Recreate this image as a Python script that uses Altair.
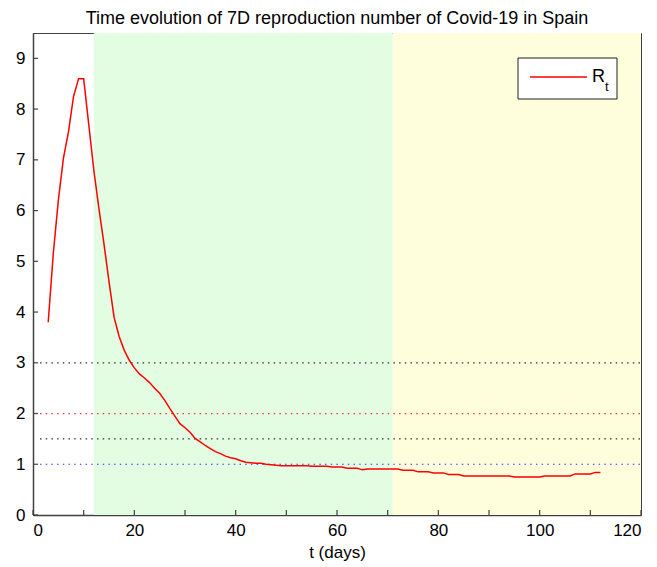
import altair as alt
import pandas as pd

# ---- data ----
days = list(range(3, 113))
rt = [3.8, 5.15, 6.2, 7.03, 7.55, 8.25, 8.6, 8.6,
      7.7, 6.8, 6.05, 5.35, 4.6, 3.9, 3.52, 3.25, 3.05, 2.9,
      2.78, 2.70, 2.61, 2.50, 2.40, 2.26, 2.10, 1.95, 1.80, 1.72,
      1.63, 1.51, 1.44, 1.37, 1.31, 1.25, 1.21, 1.16, 1.13, 1.11,
      1.07, 1.04, 1.03, 1.02, 1.02, 1.00, 0.99, 0.98, 0.97, 0.97,
      0.97, 0.97, 0.97, 0.97, 0.96, 0.96, 0.96, 0.96, 0.945, 0.945,
      0.945, 0.92, 0.92, 0.92, 0.89, 0.905, 0.905, 0.905, 0.905, 0.905,
      0.905, 0.905, 0.88, 0.88, 0.88, 0.85, 0.85, 0.85, 0.83, 0.83,
      0.83, 0.80, 0.80, 0.80, 0.77, 0.77, 0.77, 0.77, 0.77, 0.77,
      0.77, 0.77, 0.77, 0.77, 0.75, 0.75, 0.75, 0.75, 0.75, 0.75,
      0.77, 0.77, 0.77, 0.77, 0.77, 0.77, 0.81, 0.81, 0.81, 0.81,
      0.84, 0.84]

region_start = [12, 71]
region_end = [71, 120]
region_color = ["#e2fde2", "#fffedc"]

ref_levels = [3, 2, 1.5, 1]
ref_colors = ["#333333", "#ff3333", "#333333", "#3333ff"]

x_ticks = list(range(0, 121, 10))
x_labels = list(range(0, 121, 20))
y_ticks = list(range(0, 10))

title_text = "Time evolution of 7D reproduction number of Covid-19 in Spain"
x_title = "t (days)"
legend_main = "R"
legend_sub = "t"

FONT = "Liberation Sans, Arial, Helvetica, sans-serif"
W, H = 608, 482
FRAME = "#404040"

df = pd.DataFrame({"t": days, "R": rt})
reg = pd.DataFrame({"a": region_start, "b": region_end, "c": region_color})
refs = pd.DataFrame({"y": ref_levels, "c": ref_colors})

xs = alt.Scale(domain=[0, 120], nice=False, zero=False)
ys = alt.Scale(domain=[0, 9.5], nice=False, zero=False)

bg = alt.Chart(reg).mark_rect().encode(
    x=alt.X("a:Q", scale=xs, axis=alt.Axis(values=x_labels, title=x_title, tickSize=0,
                                            labelPadding=7, titlePadding=6, domainColor=FRAME,
                                            domainWidth=1.5, grid=False)),
    x2="b:Q",
    y=alt.value(0), y2=alt.value(H),
    color=alt.Color("c:N", scale=None),
)

ref_lines = alt.Chart(refs).mark_rule(strokeDash=[1.5, 4.2], strokeWidth=1.2).encode(
    y=alt.Y("y:Q", scale=ys),
    x=alt.value(7), x2=alt.value(W),
    color=alt.Color("c:N", scale=None),
)

line = alt.Chart(df).mark_line(color="#ff0000", strokeWidth=1.5).encode(
    x=alt.X("t:Q", scale=xs),
    y=alt.Y("R:Q", scale=ys, axis=alt.Axis(values=y_ticks, title=None, tickSize=0,
                                          labelPadding=8, domainColor=FRAME,
                                          domainWidth=1.5, grid=False)),
)

xt = alt.Chart(pd.DataFrame({"v": x_ticks})).mark_rule(color=FRAME, strokeWidth=1.2).encode(
    x=alt.X("v:Q", scale=xs), y=alt.value(H), y2=alt.value(H - 5))
yt = alt.Chart(pd.DataFrame({"v": y_ticks})).mark_rule(color=FRAME, strokeWidth=1.2).encode(
    y=alt.Y("v:Q", scale=ys), x=alt.value(0), x2=alt.value(5))

# legend
leg_box = alt.Chart(pd.DataFrame({"k": [0]})).mark_rect(
    fill="white", stroke="#202020", strokeWidth=1).encode(
    x=alt.value(485), x2=alt.value(584), y=alt.value(25), y2=alt.value(66))
leg_line = alt.Chart(pd.DataFrame({"k": [0]})).mark_rule(color="#ff0000", strokeWidth=1.5).encode(
    x=alt.value(497), x2=alt.value(554), y=alt.value(44))
leg_r = alt.Chart(pd.DataFrame({"s": [legend_main]})).mark_text(
    font=FONT, fontSize=18, align="left", baseline="middle", color="black").encode(
    text="s:N", x=alt.value(559), y=alt.value(44))
leg_t = alt.Chart(pd.DataFrame({"s": [legend_sub]})).mark_text(
    font=FONT, fontSize=13, align="left", baseline="middle", color="black").encode(
    text="s:N", x=alt.value(572), y=alt.value(54))

chart = alt.layer(bg, ref_lines, line, xt, yt, leg_box, leg_line, leg_r, leg_t).properties(
    width=W, height=H,
    title=alt.TitleParams(title_text, font=FONT, fontSize=18, fontWeight="normal",
                          color="black", anchor="middle", offset=5),
    autosize=alt.AutoSizeParams(type="none"),
    padding={"left": 25, "top": 25, "right": 8, "bottom": 52},
).configure_view(stroke=FRAME, strokeWidth=1).configure_axis(
    labelFont=FONT, labelFontSize=17, labelColor="black",
    titleFont=FONT, titleFontSize=17, titleFontWeight="normal", titleColor="black",
)

chart.save("out.html", embed_options={"renderer": "svg", "actions": False})
